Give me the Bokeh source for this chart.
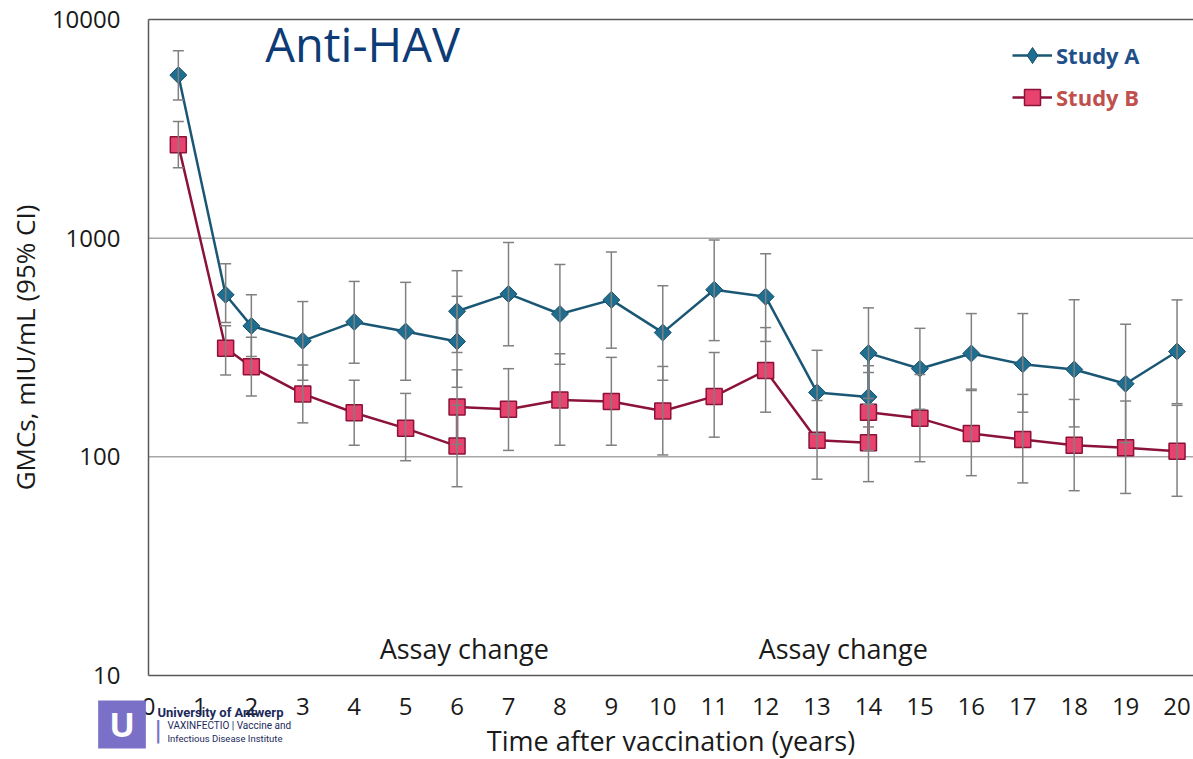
import numpy as np
from bokeh.plotting import figure
from bokeh.models import (Range1d, FixedTicker, PrintfTickFormatter, ColumnDataSource,
                          Whisker, TeeHead, Legend, LegendItem, Label)
from bokeh.embed import file_html
from bokeh.resources import INLINE

# ---------------- data ----------------
years = [0.58, 1.5, 2, 3, 4, 5, 6, 6, 7, 8, 9, 10, 11, 12, 13, 14, 14, 15, 16, 17, 18, 19, 20]

study_a_gmc = [5568, 551, 397, 339, 414, 374, 337, 463, 556, 450, 522, 370, 581, 540, 197, 188, 298, 253, 297, 265, 251, 216, 303]
study_a_upper = [7194, 764, 551, 513, 634, 628, 542, 710, 955, 758, 864, 606, 982, 848, 307, 261, 480, 387, 452, 452, 523, 404, 522]
study_a_lower = [4282, 412, 288, 224, 268, 224, 208, 300, 322, 265, 314, 224, 340, 337, 127, 137, 185, 165, 201, 160, 137, 116, 175]

study_b_gmc = [2671, 314, 258, 194, 159, 135, 112, 169, 165, 182, 179, 162, 189, 248, 119, 116, 160, 150, 128, 120, 113, 110, 106]
study_b_upper = [3415, 398, 352, 263, 224, 195, 172, 250, 253, 296, 285, 259, 300, 390, 181, 174, 243, 238, 204, 193, 183, 180, 172]
study_b_lower = [2098, 237, 190, 143, 113, 96, 73, 114, 107, 113, 113, 102, 123, 160, 79, 77, 107, 95, 82, 76, 70, 68, 66]

x_ticks = list(range(0, 21))
y_ticks = [10, 100, 1000, 10000]
y_gridlines = [100, 1000]

series_names = ["Study A", "Study B"]
title_text = "Anti-HAV"
assay_note = "Assay change"
assay_years = [6.14, 13.51]
x_label = "Time after vaccination (years)"
y_label = "GMCs, mIU/mL (95% CI)"

# ---------------- layout (pixels) ----------------
W, H = 1193, 759
BOX_LEFT, BOX_TOP, BOX_BOTTOM = 148, 19, 675
X_BOX_END = 20.32                    # years at the right edge of the canvas
Y_MIN, Y_MAX = y_ticks[0], y_ticks[-1]
px_per_year = (W - BOX_LEFT) / X_BOX_END
px_per_dec = (BOX_BOTTOM - BOX_TOP) / np.log10(Y_MAX / Y_MIN)
x_start = -BOX_LEFT / px_per_year
y_top = 10 ** (np.log10(Y_MAX) + BOX_TOP / px_per_dec)
y_bottom = 10 ** (np.log10(Y_MIN) - (H - BOX_BOTTOM) / px_per_dec)

# ---------------- styling ----------------
FONT = "Open Sans"
A_FILL, A_LINE, A_TEXT = "#1f6e8f", "#1a5775", "#214f8a"
B_FILL, B_LINE, B_TEXT = "#e8436f", "#8b1239", "#c0504d"
ERR = "#808080"
FRAME = "#595959"

p = figure(width=W, height=H, output_backend="svg", toolbar_location=None,
           y_axis_type="log", x_range=Range1d(x_start, X_BOX_END), y_range=Range1d(y_bottom, y_top),
           min_border=0, min_border_left=0, min_border_right=0, min_border_top=0, min_border_bottom=0)
p.background_fill_color = "white"
p.border_fill_color = "white"
p.outline_line_color = None
p.xgrid.visible = False
p.ygrid.visible = False

p.xaxis.ticker = FixedTicker(ticks=x_ticks)
p.yaxis.ticker = FixedTicker(ticks=y_ticks)
p.yaxis.formatter = PrintfTickFormatter(format="%d")
p.xaxis.fixed_location = Y_MIN
p.yaxis.fixed_location = 0
p.xaxis.bounds = (0, X_BOX_END)
p.yaxis.bounds = (Y_MIN, Y_MAX)
for ax in p.axis:
    ax.axis_line_color = FRAME
    ax.axis_line_width = 1.5
    ax.major_tick_line_color = None
    ax.minor_tick_line_color = None
    ax.major_tick_out = 0
    ax.major_tick_in = 0
    ax.minor_tick_out = 0
    ax.major_label_text_font = FONT
    ax.major_label_text_font_size = "24px"
    ax.major_label_text_color = "#1a1a1a"
    ax.axis_label_text_font = FONT
    ax.axis_label_text_font_style = "normal"
    ax.axis_label_text_color = "#1a1a1a"
p.yaxis.axis_label_text_font_size = "26px"
p.xaxis.axis_label_text_font_size = "27px"
p.yaxis.major_label_standoff = 28
p.xaxis.major_label_standoff = 22
p.yaxis.axis_label_standoff = 6
p.xaxis.axis_label_standoff = 4
p.yaxis.axis_label = y_label
p.xaxis.axis_label = x_label

# horizontal gridlines and top border of the plot box
n_grid = len(y_gridlines)
p.segment(x0=[0] * n_grid, x1=[X_BOX_END] * n_grid, y0=y_gridlines, y1=y_gridlines,
          line_color="#a6a6a6", line_width=1.5)
p.segment(x0=[0], x1=[X_BOX_END], y0=[Y_MAX], y1=[Y_MAX], line_color=FRAME, line_width=1.5)

src_a = ColumnDataSource(dict(x=years, y=study_a_gmc, upper=study_a_upper, lower=study_a_lower))
src_b = ColumnDataSource(dict(x=years, y=study_b_gmc, upper=study_b_upper, lower=study_b_lower))

for src in (src_a, src_b):
    w = Whisker(base="x", upper="upper", lower="lower", source=src, dimension="height",
                line_color=ERR, line_width=1.5, level="glyph",
                upper_head=TeeHead(size=11, line_color=ERR, line_width=1.5),
                lower_head=TeeHead(size=11, line_color=ERR, line_width=1.5))
    p.add_layout(w)

line_b = p.line("x", "y", source=src_b, line_color=B_LINE, line_width=2.5)
line_a = p.line("x", "y", source=src_a, line_color=A_LINE, line_width=2.5)
pts_b = p.scatter("x", "y", source=src_b, marker="square", size=16,
                  fill_color=B_FILL, line_color=B_LINE, line_width=1.5)
pts_a = p.scatter("x", "y", source=src_a, marker="square", size=12, angle=np.pi / 4,
                  fill_color=A_FILL, line_color="#174f6a", line_width=1)
# hidden renderer used only as the legend key (legend keys are never rotated)
key_a = p.scatter("x", "y", source=src_a, marker="diamond", size=16, visible=False,
                  fill_color=A_FILL, line_color="#174f6a", line_width=1)

def make_legend(name, rends, color, loc):
    lg = Legend(items=[LegendItem(label=name, renderers=rends)], location=loc,
                glyph_width=40, glyph_height=40, label_standoff=4, padding=0, margin=0,
                spacing=0, border_line_alpha=0, background_fill_alpha=0,
                label_text_font=FONT, label_text_font_size="22px",
                label_text_font_style="bold", label_text_color=color)
    p.add_layout(lg, "center")

make_legend(series_names[0], [line_a, key_a], A_TEXT, (1012, H - 75))
make_legend(series_names[1], [line_b, pts_b], B_TEXT, (1012, H - 117))

p.add_layout(Label(x=2.27, y=7700, text=title_text, text_font=FONT, text_font_size="47px",
                   text_color="#0d3b75", text_align="left", text_baseline="middle"))
for ay in assay_years:
    p.add_layout(Label(x=ay, y=13.3, text=assay_note, text_font=FONT, text_font_size="27px",
                       text_color="#1a1a1a", text_align="center", text_baseline="middle"))

# logo (University of Antwerp / Vaxinfectio) below the plot box
p.add_layout(Label(x=-0.515, y=5.97, text="U", text_font=FONT, text_font_size="34px",
                   text_font_style="bold", text_color="white", text_align="center",
                   text_baseline="middle", background_fill_color="#7b70c8", padding=(11, 1)))
p.add_layout(Label(x=0.175, y=6.77, text="University of Antwerp", text_font="Roboto",
                   text_font_size="13px", text_font_style="bold", text_color="#1c2a5c",
                   text_align="left", text_baseline="middle"))
p.add_layout(Label(x=0.19, y=5.6, text="|", text_font="Roboto", text_font_size="28px",
                   text_color="#7b70c8", text_align="center", text_baseline="middle"))
p.add_layout(Label(x=0.37, y=5.91, text="VAXINFECTIO | Vaccine and", text_font="Roboto",
                   text_font_size="10px", text_color="#1c2a5c",
                   text_align="left", text_baseline="middle"))
p.add_layout(Label(x=0.37, y=5.15, text="Infectious Disease Institute", text_font="Roboto",
                   text_font_size="9.5px", text_color="#1c2a5c",
                   text_align="left", text_baseline="middle"))

open("out.html", "w").write(file_html(p, INLINE))
